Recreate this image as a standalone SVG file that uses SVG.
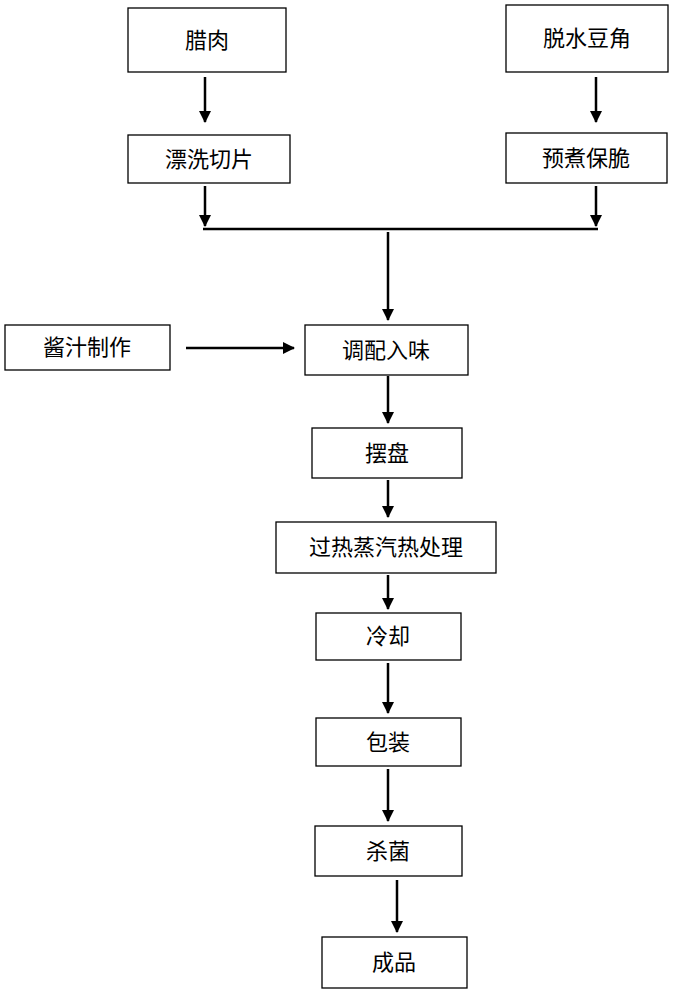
<svg xmlns="http://www.w3.org/2000/svg" width="677" height="1000" viewBox="0 0 677 1000">
<style>
rect{fill:#fff;stroke:#000;stroke-width:1.3}
text{font-family:"Noto Sans CJK SC",sans-serif;font-size:22px;text-anchor:middle;dominant-baseline:central;fill:#000}
line{stroke:#000;stroke-width:2.5}
</style>
<defs><marker id="a" markerWidth="12" markerHeight="12" refX="11" refY="6" orient="auto" markerUnits="userSpaceOnUse"><path d="M0,0L12,6L0,12z"/></marker></defs>
<rect width="677" height="1000" style="stroke:none"/>
<g id="n1"><rect x="128" y="8" width="158" height="64"/><text x="207" y="38">腊肉</text></g>
<g id="n2"><rect x="506" y="5" width="162" height="67"/><text x="587" y="36">脱水豆角</text></g>
<g id="n3"><rect x="128" y="135" width="162" height="48"/><text x="209" y="157">漂洗切片</text></g>
<g id="n4"><rect x="506" y="133" width="161" height="50"/><text x="586" y="156">预煮保脆</text></g>
<g id="n5"><rect x="5" y="325" width="165" height="45"/><text x="87" y="345">酱汁制作</text></g>
<g id="n6"><rect x="305" y="325" width="163" height="50"/><text x="386" y="348">调配入味</text></g>
<g id="n7"><rect x="312" y="428" width="150" height="50"/><text x="387" y="451">摆盘</text></g>
<g id="n8"><rect x="276" y="522" width="220" height="51"/><text x="386" y="545">过热蒸汽热处理</text></g>
<g id="n9"><rect x="316" y="613" width="145" height="47"/><text x="388" y="634">冷却</text></g>
<g id="n10"><rect x="316" y="718" width="145" height="48"/><text x="388" y="740">包装</text></g>
<g id="n11"><rect x="315" y="826" width="147" height="50"/><text x="388" y="849">杀菌</text></g>
<g id="n12"><rect x="322" y="937" width="145" height="51"/><text x="394" y="960">成品</text></g>
<g id="connectors">
<line x1="205" y1="77" x2="205" y2="122" marker-end="url(#a)"/>
<line x1="596" y1="77" x2="596" y2="122" marker-end="url(#a)"/>
<line x1="205" y1="186" x2="205" y2="226" marker-end="url(#a)"/>
<line x1="596" y1="186" x2="596" y2="226" marker-end="url(#a)"/>
<line x1="203" y1="229" x2="598" y2="229"/>
<line x1="388" y1="232" x2="388" y2="320" marker-end="url(#a)"/>
<line x1="186" y1="348" x2="294" y2="348" marker-end="url(#a)"/>
<line x1="388" y1="376" x2="388" y2="423" marker-end="url(#a)"/>
<line x1="388" y1="480" x2="388" y2="517" marker-end="url(#a)"/>
<line x1="388" y1="575" x2="388" y2="609" marker-end="url(#a)"/>
<line x1="388" y1="663" x2="388" y2="713" marker-end="url(#a)"/>
<line x1="388" y1="769" x2="388" y2="821" marker-end="url(#a)"/>
<line x1="397" y1="880" x2="397" y2="932" marker-end="url(#a)"/>
</g>
</svg>
